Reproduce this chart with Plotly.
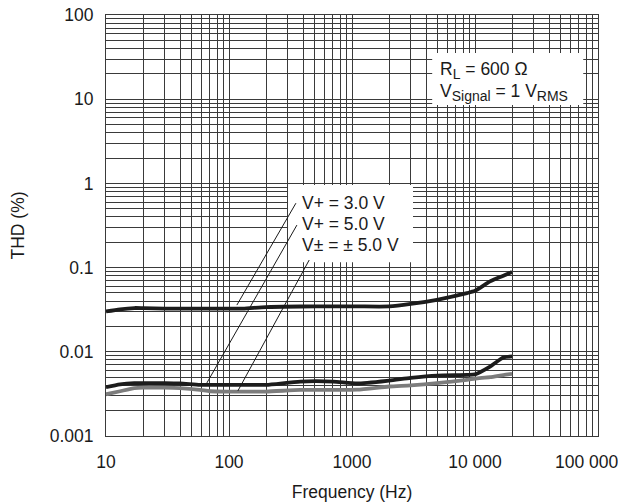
import plotly.graph_objects as go

# ---- data ----
freq_hz = [10, 13, 17, 20, 30, 40, 58, 70, 100, 130, 200, 380, 700, 1100,
           2000, 3000, 4900, 8600, 10000, 13250, 17000, 20000]
thd_3v = [0.0301, 0.0320, 0.0331, 0.0330, 0.0326, 0.0325, 0.0325, 0.0325,
          0.0325, 0.0326, 0.0340, 0.0345, 0.0346, 0.0346, 0.0346, 0.0370,
          0.0415, 0.0497, 0.0530, 0.0685, 0.0800, 0.0886]
thd_5v = [0.00380, 0.00410, 0.00424, 0.00424, 0.00424, 0.00420, 0.00405,
          0.00405, 0.00405, 0.00405, 0.00405, 0.00443, 0.00443, 0.00420,
          0.00455, 0.00490, 0.00522, 0.00532, 0.00540, 0.00668, 0.00855,
          0.00880]
thd_pm5v = [0.00313, 0.00340, 0.00370, 0.00376, 0.00375, 0.00370, 0.00353,
            0.00340, 0.00337, 0.00337, 0.00337, 0.00353, 0.00353, 0.00355,
            0.00387, 0.00400, 0.00424, 0.00464, 0.00480, 0.00500, 0.00530,
            0.00547]
series_names = ["V+ = 3.0 V", "V+ = 5.0 V", "V\u00b1 = \u00b1 5.0 V"]
series_colors = ["#1c1c1c", "#1c1c1c", "#7c7c7c"]

x_tick_vals = [10, 100, 1000, 10000, 100000]
x_tick_text = ["10", "100", "1000", "10 000", "100 000"]
y_tick_vals = [0.001, 0.01, 0.1, 1, 10, 100]
y_tick_text = ["0.001", "0.01", "0.1", "1", "10", "100"]

x_minor = [m * 10 ** d for d in range(1, 5) for m in range(2, 10)]
y_minor = [m * 10.0 ** d for d in range(-3, 2) for m in range(2, 10)]

FONT = "Liberation Sans, Arial, sans-serif"
GRID = "#3a3a3a"
SUB = "<sub><span style='font-size:14px'>%s</span></sub>"

fig = go.Figure()
for ys, name, col in zip([thd_3v, thd_5v, thd_pm5v], series_names, series_colors):
    fig.add_trace(go.Scatter(x=freq_hz, y=ys, name=name, mode="lines",
                             line=dict(color=col, width=3.8, shape="spline",
                                       smoothing=0.6)))

# the page adds an 8 px body margin, so the figure is sized to fit the window
fig.update_layout(
    width=618, height=495,
    margin=dict(l=98, r=28, t=7, b=67, autoexpand=False),
    paper_bgcolor="white", plot_bgcolor="white",
    showlegend=False,
    font=dict(family=FONT, size=17.5, color="#1a1a1a"),
)
# last x label is drawn separately (shifted left so it stays inside the page)
fig.update_xaxes(
    type="log", range=[1, 5], tickvals=x_tick_vals,
    ticktext=x_tick_text[:-1] + [""],
    showgrid=True, gridcolor=GRID, gridwidth=1,
    minor=dict(tickvals=x_minor, showgrid=True, gridcolor=GRID, gridwidth=1),
    showline=True, linecolor=GRID, linewidth=1, mirror=True,
    ticks="", ticklabelstandoff=10, zeroline=False, ticklabeloverflow="allow",
    title=dict(text="Frequency (Hz)", standoff=14, font=dict(size=17.5)),
    automargin=False,
)
fig.update_yaxes(
    type="log", range=[-3, 2], tickvals=y_tick_vals, ticktext=y_tick_text,
    showgrid=True, gridcolor=GRID, gridwidth=1,
    minor=dict(tickvals=y_minor, showgrid=True, gridcolor=GRID, gridwidth=1),
    showline=True, linecolor=GRID, linewidth=1, mirror=True,
    ticks="", ticklabelstandoff=8, zeroline=False, ticklabeloverflow="allow",
    title=dict(text="THD (%)", standoff=33, font=dict(size=17.5)),
    automargin=False,
)
fig.add_annotation(text=x_tick_text[-1], xref="x", yref="paper",
                   x=5, y=0, xanchor="right", yanchor="middle",
                   xshift=23, yshift=-26, showarrow=False,
                   font=dict(size=17.5))

# white boxes behind the labels
fig.add_shape(type="rect", xref="paper", yref="paper", x0=0.370, x1=0.624,
              y0=0.413, y1=0.596, fillcolor="white", line=dict(width=0),
              layer="above")
fig.add_shape(type="rect", xref="paper", yref="paper", x0=0.663, x1=0.970,
              y0=0.786, y1=0.910, fillcolor="white", line=dict(width=0),
              layer="above")

# leader lines
leaders = [((0.386, 0.553), (0.266, 0.311)),
           ((0.388, 0.501), (0.205, 0.126)),
           ((0.413, 0.418), (0.268, 0.107))]
for (xa, ya), (xb, yb) in leaders:
    fig.add_shape(type="line", xref="paper", yref="paper", x0=xa, y0=ya,
                  x1=xb, y1=yb, line=dict(color="#1a1a1a", width=1),
                  layer="above")

label_y = [0.553, 0.504, 0.454]
for txt, yy in zip(series_names, label_y):
    fig.add_annotation(text=txt, xref="paper", yref="paper", x=0.394, y=yy,
                       xanchor="left", yanchor="middle", showarrow=False,
                       font=dict(size=17.5))

fig.add_annotation(text="R" + SUB % "L" + " = 600 \u03a9", xref="paper",
                   yref="paper", x=0.675, y=0.869, xanchor="left",
                   yanchor="middle", showarrow=False, font=dict(size=17.5))
fig.add_annotation(text="V" + SUB % "Signal" + " = 1 V" + SUB % "RMS",
                   xref="paper", yref="paper", x=0.675, y=0.815,
                   xanchor="left", yanchor="middle", showarrow=False,
                   font=dict(size=17.5))

fig.write_html("out.html")
